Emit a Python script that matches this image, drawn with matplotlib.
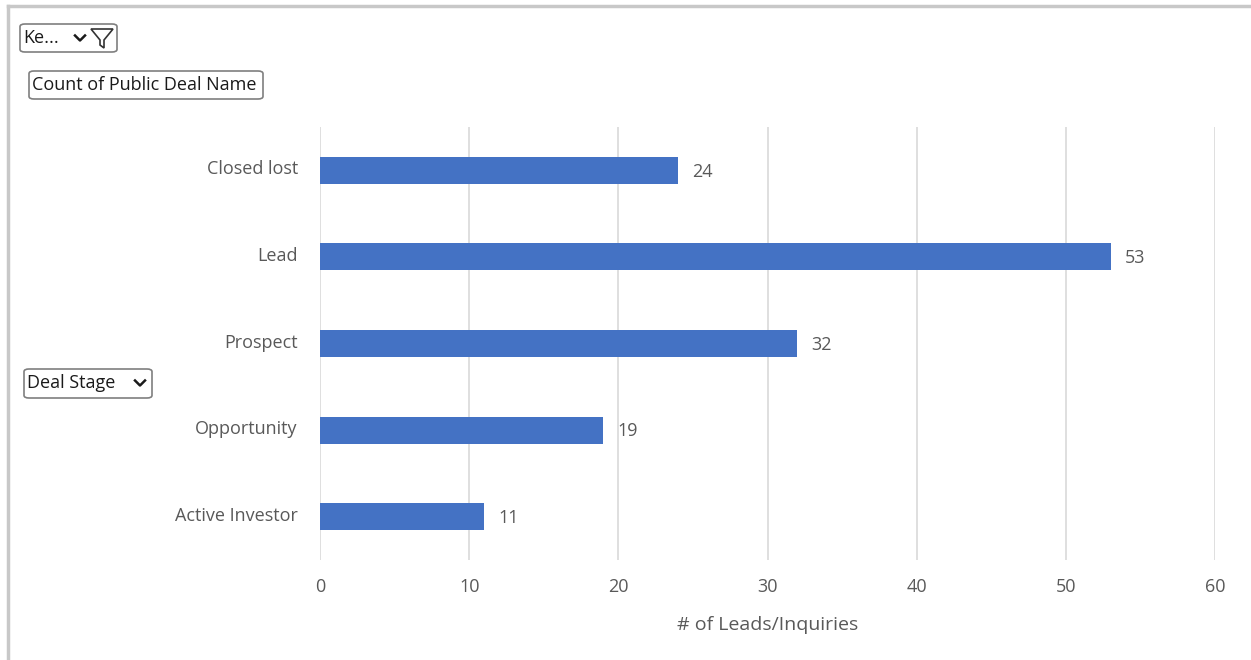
import matplotlib
matplotlib.use("Agg")
import matplotlib.pyplot as plt
import matplotlib.transforms as mtransforms
from matplotlib.patches import FancyBboxPatch, Polygon
from matplotlib.lines import Line2D

plt.rcParams['font.family'] = ['Open Sans', 'DejaVu Sans']

stages = ["Closed lost", "Lead", "Prospect", "Opportunity", "Active Investor"]
counts = [24, 53, 32, 19, 11]
x_ticks = [0, 10, 20, 30, 40, 50, 60]
x_label = "# of Leads/Inquiries"

W, H = 1251, 660
fig = plt.figure(figsize=(W / 100, H / 100), dpi=100)
fig.patch.set_facecolor("white")

def fx(px):
    return px / W

def fy(py):
    return 1 - py / H

ax = fig.add_axes([fx(320), fy(560), fx(1215) - fx(320), fy(127) - fy(560)])

text_color = "#595959"
bar_color = "#4472C4"
grid_color = "#d9d9d9"

ypos = list(range(len(stages)))
ax.barh(ypos, counts, height=0.31, color=bar_color, zorder=3)
for y, v in zip(ypos, counts):
    ax.annotate(str(v), (v, y), xytext=(10, -1), textcoords="offset points",
                va="center", ha="left", fontsize=13, color=text_color)

ax.set_xlim(0, 60)
ax.set_ylim(len(stages) - 0.5, -0.5)
ax.set_xticks(x_ticks)
ax.set_xticklabels([str(t) for t in x_ticks])
ax.set_yticks(ypos)
ax.set_yticklabels(stages)
ax.tick_params(axis="both", length=0, colors=text_color, labelsize=13)
ax.tick_params(axis="x", pad=13)
ax.tick_params(axis="y", pad=16)
shift_up = mtransforms.ScaledTranslation(0, 3 / 100, fig.dpi_scale_trans)
for lbl in ax.get_yticklabels():
    lbl.set_transform(lbl.get_transform() + shift_up)
ax.xaxis.grid(True, color=grid_color, linewidth=1.2, zorder=0)
ax.yaxis.grid(False)
for s in ax.spines.values():
    s.set_visible(False)
ax.set_xlabel(x_label, color=text_color, fontsize=14, labelpad=14)

# outer frame (top and left edges)
fig.add_artist(Line2D([fx(8), fx(8)], [fy(6), 0], color="#c8c8c8", linewidth=2.5))
fig.add_artist(Line2D([fx(8), fx(1251)], [fy(6), fy(6)], color="#c8c8c8", linewidth=2.5))

def button(x0, y0, x1, y1, label, tx):
    box = FancyBboxPatch((fx(x0), fy(y1)), fx(x1) - fx(x0), fy(y0) - fy(y1),
                         boxstyle="round,pad=0,rounding_size=0.004",
                         transform=fig.transFigure, facecolor="white",
                         edgecolor="#7f7f7f", linewidth=1.2)
    fig.add_artist(box)
    fig.text(fx(tx), fy((y0 + y1) / 2), label, ha="left", va="center",
             fontsize=13, color="#1a1a1a", family=["Open Sans", "DejaVu Sans"])

def chevron(cx, cy):
    fig.add_artist(Line2D([fx(cx - 5), fx(cx), fx(cx + 5)], [fy(cy - 2.5), fy(cy + 2.5), fy(cy - 2.5)],
                          color="#1a1a1a", linewidth=1.8))

button(20, 24, 117, 52, "Ke...", 23)
chevron(80, 38)
funnel = Polygon([(fx(91), fy(29)), (fx(113), fy(29)), (fx(104), fy(40)),
                  (fx(104), fy(48)), (fx(100), fy(45)), (fx(100), fy(40))],
                 closed=True, transform=fig.transFigure, facecolor="white",
                 edgecolor="#333333", linewidth=1.2)
fig.add_artist(funnel)

button(29, 71, 263, 99, "Count of Public Deal Name", 32)
button(24, 369, 152, 398, "Deal Stage", 27)
chevron(140, 383)

fig.savefig("out.png", dpi=100, facecolor="white")
